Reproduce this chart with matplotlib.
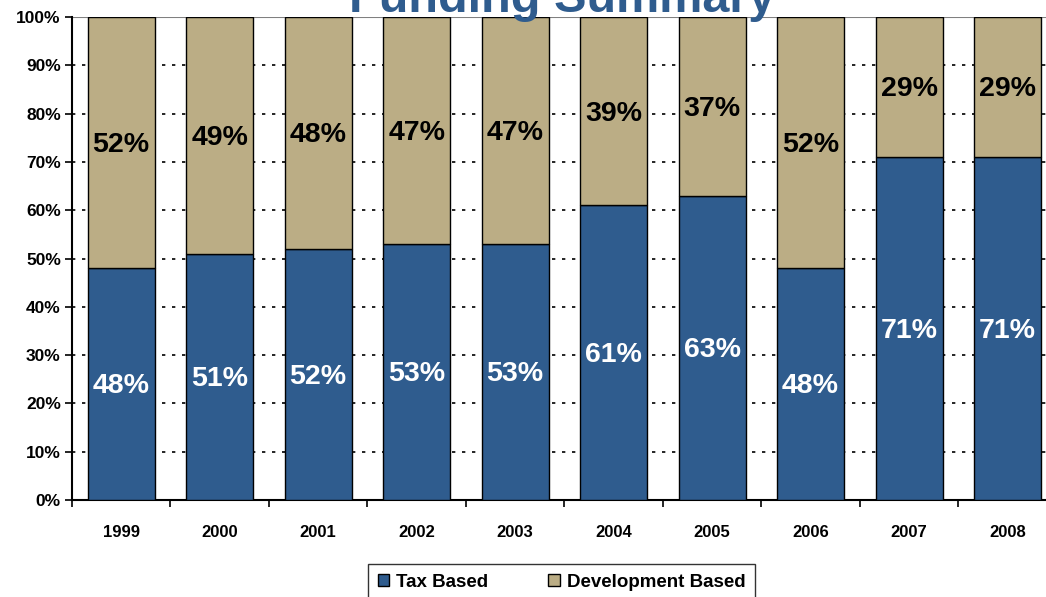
import matplotlib
matplotlib.use('Agg')
import matplotlib.pyplot as plt
import numpy as np

plt.rcParams['font.family'] = ['Liberation Sans', 'DejaVu Sans']

YEARS = ['1999', '2000', '2001', '2002', '2003', '2004', '2005', '2006', '2007', '2008']
TAX = [48, 51, 52, 53, 53, 61, 63, 48, 71, 71]
DEV = [52, 49, 48, 47, 47, 39, 37, 52, 29, 29]

BLUE = '#2F5C8E'
TAN = '#BBAD85'

fig = plt.figure(figsize=(10.46, 5.97), dpi=100)
ax = fig.add_axes([0.0688, 0.1625, 0.9415, 0.8090])

x = np.arange(len(YEARS))
b1 = ax.bar(x, TAX, 0.68, color=BLUE, edgecolor='black', linewidth=1, label='Tax Based', zorder=3)
b2 = ax.bar(x, DEV, 0.68, bottom=TAX, color=TAN, edgecolor='black', linewidth=1,
            label='Development Based', zorder=3)

for i in range(len(YEARS)):
    ax.text(x[i], TAX[i] / 2 - 0.5, f'{TAX[i]}%', ha='center', va='center', color='white',
            fontsize=20.5, fontweight='bold', zorder=4)
    ax.text(x[i], TAX[i] + DEV[i] / 2 - 0.5, f'{DEV[i]}%', ha='center', va='center', color='black',
            fontsize=20.5, fontweight='bold', zorder=4)

ax.set_xlim(-0.5, len(YEARS) - 0.5)
ax.set_ylim(0, 100)
ax.set_yticks(np.arange(0, 101, 10))
ax.set_yticklabels([f'{v}%' for v in range(0, 101, 10)], fontsize=12.5, fontweight='bold')
ax.set_xticks(x)
ax.set_xticklabels(YEARS, fontsize=12, fontweight='bold')
ax.tick_params(axis='x', which='major', length=0, pad=18)
ax.set_xticks(np.arange(-0.5, len(YEARS)), minor=True)
ax.tick_params(axis='x', which='minor', length=5, width=1.2, direction='out')
ax.tick_params(axis='y', length=5, width=1.2, direction='out', pad=3)

ax.yaxis.grid(True, linestyle=(0, (2, 4)), color='black', linewidth=1.2, zorder=1)
ax.axhline(100, color='#808080', linewidth=1.5, zorder=2)

ax.spines['top'].set_visible(False)
ax.spines['right'].set_visible(False)
ax.spines['left'].set_linewidth(1.5)
ax.spines['bottom'].set_linewidth(1.5)

fig.text(0.537, 0.98, 'Funding Summary', ha='center', va='baseline', fontsize=35,
         fontweight='bold', color=BLUE)

leg = fig.legend(handles=[b1, b2], loc='upper center', bbox_to_anchor=(0.537, 0.0545), ncol=2,
                 frameon=True, fancybox=False, edgecolor='black', handlelength=0.6,
                 handleheight=0.6, handletextpad=0.4, columnspacing=3.2,
                 borderpad=0.5, borderaxespad=0, prop={'weight': 'bold', 'size': 13.5})
leg.get_frame().set_linewidth(1)

fig.savefig('out.png', dpi=100)
